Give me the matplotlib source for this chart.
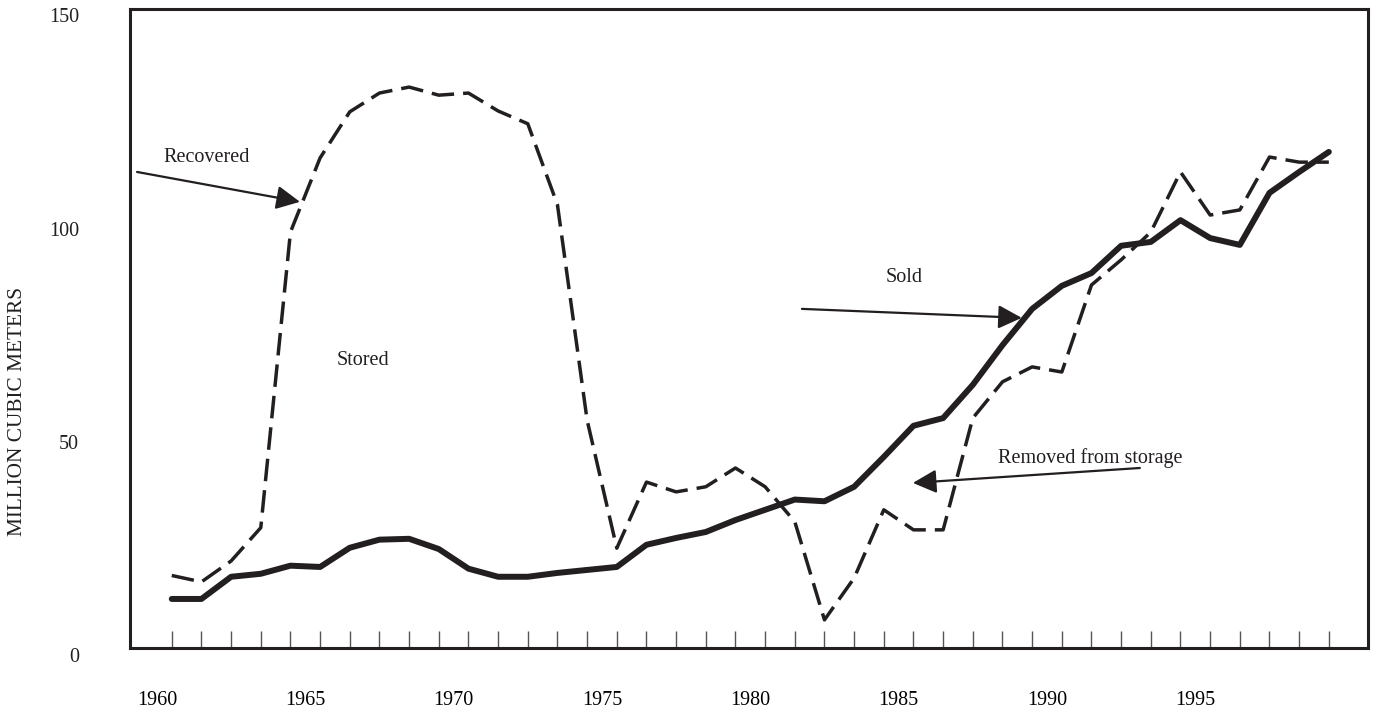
import matplotlib
matplotlib.use('Agg')
import matplotlib.pyplot as plt
import numpy as np

plt.rcParams['font.family'] = ['Liberation Serif', 'DejaVu Serif']

# data points sit at mid-year (1960.5 ... 1999.5)
years = np.arange(1960, 2000) + 0.5

sold = [13.1, 13.1, 18.3, 19.0, 20.9, 20.6, 25.1, 27.0, 27.2, 24.8,
        20.2, 18.3, 18.3, 19.2, 19.9, 20.6, 25.8, 27.4, 28.8, 31.6,
        34.0, 36.4, 36.0, 39.4, 46.4, 53.7, 55.5, 63.3, 72.6, 81.1,
        86.5, 89.5, 95.9, 96.8, 101.9, 97.7, 96.1, 108.3, 113.2, 117.9]

removed = [18.6, 17.1, 22.0, 29.8, 99.1, 116.5, 127.3, 131.7, 133.1, 131.2,
           131.7, 127.5, 124.5, 105.5, 55.0, 25.0, 40.5, 38.2, 39.4, 43.8,
           39.4, 31.2, 8.2, 18.0, 34.0, 29.3, 29.3, 55.5, 64.0, 67.5,
           66.3, 86.7, 92.6, 99.1, 113.2, 103.1, 104.3, 116.7, 115.5, 115.5]

label_years = [1960, 1965, 1970, 1975, 1980, 1985, 1990, 1995]
y_labels = [0, 50, 100, 150]

ink = '#231f20'

fig = plt.figure(figsize=(13.75, 7.15), dpi=100)
ax = fig.add_axes([0.0945, 0.0937, 0.9004, 0.8937])

ax.plot(years, removed, color=ink, linewidth=2.5, linestyle=(0, (6.5, 2.6)))
ax.plot(years, sold, color=ink, linewidth=4.3, solid_capstyle='round',
        solid_joinstyle='round')

ax.set_xlim(1959.09, 2000.82)
ax.set_ylim(1.6, 151.4)

# year labels without marks, small marks at each data point
ax.set_xticks(label_years)
ax.set_xticklabels([str(y) for y in label_years], fontsize=14.5)
ax.tick_params(axis='x', which='major', length=0, pad=31)
ax.set_xticks(years, minor=True)
ax.tick_params(axis='x', which='minor', direction='in', length=12,
               width=1.0, color='#555555')
ax.set_yticks([])

for v in y_labels:
    ax.text(-0.041, v - 0.7, str(v), transform=ax.get_yaxis_transform(),
            ha='right', va='center', fontsize=14.5, color=ink, clip_on=False)

for s in ax.spines.values():
    s.set_linewidth(2.2)
    s.set_color(ink)

fig.text(18 / 1375, 1 - 411 / 715, 'MILLION CUBIC METERS', rotation=90,
         ha='center', va='center', fontsize=15.3, color=ink)

arrow = dict(arrowstyle='-|>', mutation_scale=36, lw=1.6, color=ink,
             shrinkA=0, shrinkB=0)

ax.text(1961.69, 116.5, 'Recovered', ha='center', va='center',
        fontsize=14.5, color=ink)
ax.annotate('', xy=(1964.82, 106.2), xytext=(1959.33, 113.2),
            arrowprops=arrow)

ax.text(1966.94, 68.9, 'Stored', ha='center', va='center',
        fontsize=14.5, color=ink)

ax.text(1985.18, 88.4, 'Sold', ha='center', va='center',
        fontsize=14.5, color=ink)
ax.annotate('', xy=(1989.15, 79.0), xytext=(1981.74, 81.1),
            arrowprops=arrow)

ax.text(1991.45, 46.2, 'Removed from storage', ha='center', va='center',
        fontsize=14.5, color=ink)
ax.annotate('', xy=(1985.48, 40.3), xytext=(1993.13, 43.8),
            arrowprops=arrow)

fig.savefig('out.png', dpi=100)
